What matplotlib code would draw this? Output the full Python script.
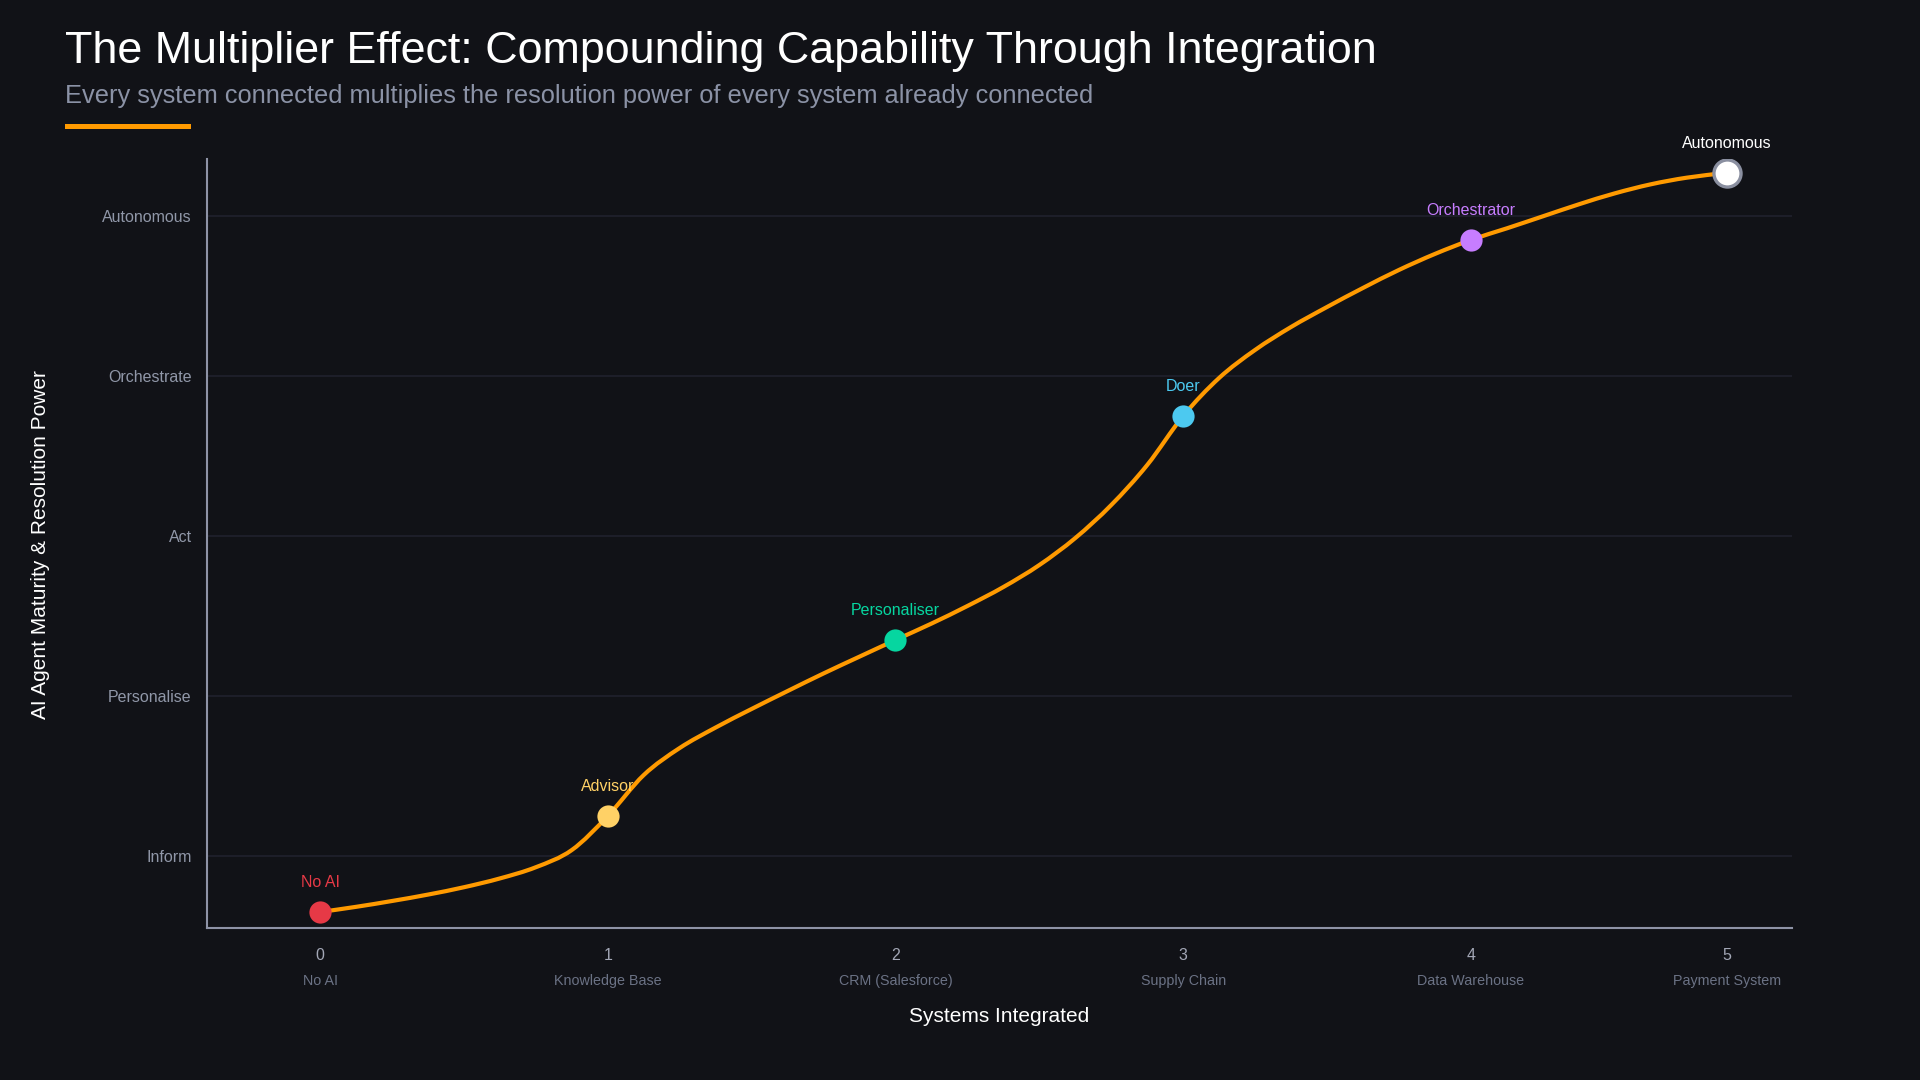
import numpy as np
import matplotlib.pyplot as plt
from matplotlib.path import Path
from matplotlib.patches import PathPatch, Rectangle
from matplotlib.transforms import blended_transform_factory

plt.rcParams['font.family'] = ['Liberation Sans', 'DejaVu Sans']

# --- data ---
stage_names = ["No AI", "Advisor", "Personaliser", "Doer", "Orchestrator", "Autonomous"]
stage_colors = ["#e63946", "#ffd166", "#06d6a0", "#4cc9f0", "#c77dff", "#ffffff"]
label_colors = ["#e63946", "#ffd166", "#06d6a0", "#4cc9f0", "#c77dff", "#ffffff"]
system_names = ["No AI", "Knowledge Base", "CRM (Salesforce)", "Supply Chain",
                "Data Warehouse", "Payment System"]
system_counts = ["0", "1", "2", "3", "4", "5"]
x_pos = [0, 1, 2, 3, 4, 4.89]
maturity = [0.65, 1.25, 2.35, 3.75, 4.85, 5.27]

level_names = ["Inform", "Personalise", "Act", "Orchestrate", "Autonomous"]
level_vals = [1, 2, 3, 4, 5]

# trace of the orange line
curve_x = [0, 0.125, 0.25, 0.375, 0.5, 0.625, 0.75, 0.875, 1,
           1.125, 1.25, 1.375, 1.5, 1.625, 1.75, 1.875, 2,
           2.125, 2.25, 2.375, 2.5, 2.625, 2.75, 2.875, 3,
           3.125, 3.25, 3.375, 3.5, 3.625, 3.75, 3.875, 4,
           4.125, 4.25, 4.375, 4.5, 4.625, 4.75, 4.89]
curve_y = [0.65, 0.6825, 0.719, 0.759, 0.805, 0.86, 0.93, 1.0375, 1.25,
           1.506, 1.675, 1.803, 1.919, 2.031, 2.141, 2.246, 2.35,
           2.4525, 2.5625, 2.681, 2.8185, 2.987, 3.1935, 3.4435, 3.75,
           3.9875, 4.1625, 4.306, 4.431, 4.55, 4.6625, 4.7625, 4.85,
           4.9225, 4.9975, 5.0725, 5.141, 5.1975, 5.239, 5.27]

BG = "#111217"
ORANGE = "#ff9a00"
AXIS = "#8e93a6"
GRID = "#1d1e29"


def smooth_path(xs, ys):
    # cubic hermite through the points (centred tangents), as bezier segments
    xs = np.asarray(xs, float)
    ys = np.asarray(ys, float)
    n = len(xs)
    t = np.zeros(n)
    t[1:-1] = (ys[2:] - ys[:-2]) / (xs[2:] - xs[:-2])
    t[0] = (ys[1] - ys[0]) / (xs[1] - xs[0])
    t[-1] = (ys[-1] - ys[-2]) / (xs[-1] - xs[-2])
    verts = [(xs[0], ys[0])]
    codes = [Path.MOVETO]
    for i in range(n - 1):
        dx = (xs[i + 1] - xs[i]) / 3
        verts += [(xs[i] + dx, ys[i] + dx * t[i]),
                  (xs[i + 1] - dx, ys[i + 1] - dx * t[i + 1]),
                  (xs[i + 1], ys[i + 1])]
        codes += [Path.CURVE4] * 3
    return Path(verts, codes)


fig = plt.figure(figsize=(19.2, 10.8), dpi=100, facecolor=BG)
ax = fig.add_axes([0.1078, 0.1407, 0.8255, 0.7121], facecolor=BG)

ax.add_patch(PathPatch(smooth_path(curve_x, curve_y), facecolor='none', edgecolor=ORANGE,
                       lw=3, capstyle='round', joinstyle='round', zorder=3))

# stage markers and labels
for i, name in enumerate(stage_names):
    if name == "Autonomous":
        ax.plot(x_pos[i], maturity[i], 'o', ms=19.5, mfc=stage_colors[i],
                mec="#8a8fa0", mew=2.4, zorder=5)
    else:
        ax.plot(x_pos[i], maturity[i], 'o', ms=16, mfc=stage_colors[i],
                mec='none', zorder=5)
    ax.annotate(name, (x_pos[i], maturity[i]), xytext=(0, 21),
                textcoords='offset points', ha='center', va='center',
                fontsize=11.5, color=label_colors[i], zorder=6)

ax.set_xlim(-0.393, 5.116)
ax.set_ylim(0.55, 5.356)

ax.set_yticks(level_vals)
ax.set_yticklabels(level_names)
ax.set_xticks(x_pos)
ax.set_xticklabels(system_counts)
ax.tick_params(axis='y', length=0, pad=11, labelsize=11.5, labelcolor="#9097a8")
ax.tick_params(axis='x', length=0, pad=14.5, labelsize=11.5, labelcolor="#a3a7b6")

trans = blended_transform_factory(ax.transData, ax.transAxes)
for i, name in enumerate(system_names):
    ax.text(x_pos[i], -0.0685, name, transform=trans, ha='center', va='center',
            fontsize=10.3, color="#6b7285")

ax.grid(axis='y', color=GRID, lw=1.5)
ax.grid(axis='x', visible=False)
ax.set_axisbelow(True)
for s in ['top', 'right']:
    ax.spines[s].set_visible(False)
for s in ['left', 'bottom']:
    ax.spines[s].set_color(AXIS)
    ax.spines[s].set_linewidth(1.5)

fig.text(999 / 1920, 1 - 1016 / 1080, "Systems Integrated", ha='center', va='center',
         fontsize=15, color='white')
fig.text(41 / 1920, 1 - 545 / 1080, "AI Agent Maturity & Resolution Power", ha='center',
         va='center', rotation=90, fontsize=15, color='white')

# header
fig.text(0.0339, 1 - 63 / 1080, "The Multiplier Effect: Compounding Capability Through Integration",
         ha='left', va='baseline', fontsize=32.3, color='white')
fig.text(0.0339, 1 - 103 / 1080,
         "Every system connected multiplies the resolution power of every system already connected",
         ha='left', va='baseline', fontsize=18.3, color="#8b92a6")
fig.patches.append(Rectangle((0.0339, 1 - 129 / 1080), 126 / 1920, 5 / 1080,
                             transform=fig.transFigure, facecolor=ORANGE, edgecolor='none'))

fig.savefig("out.png", dpi=100, facecolor=BG)
